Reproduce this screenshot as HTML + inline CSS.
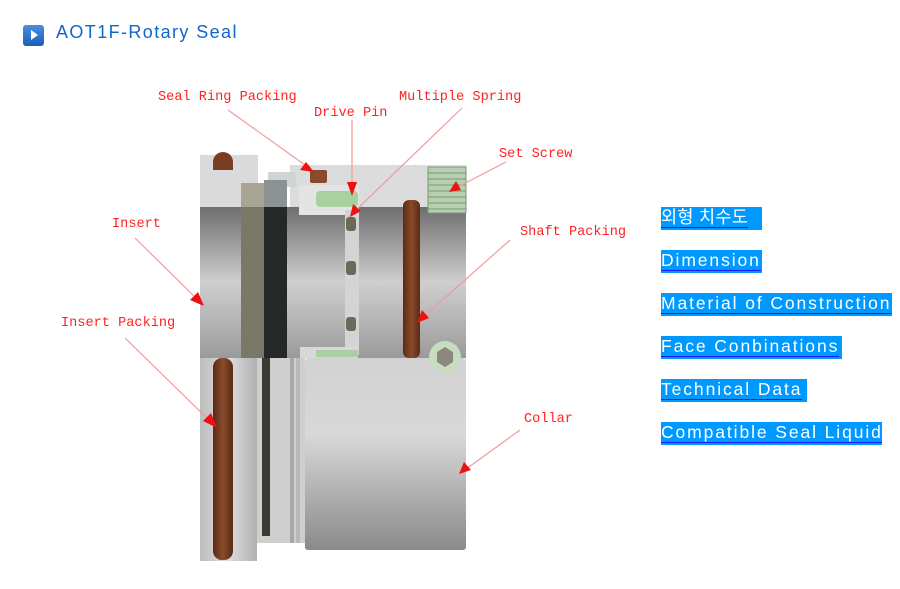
<!DOCTYPE html>
<html><head><meta charset="utf-8"><style>
body{margin:0;width:900px;height:589px;background:#fff;position:relative;overflow:hidden;font-family:"Liberation Sans","Noto Sans CJK KR",sans-serif}
.t{position:absolute;left:56px;top:22px;font-size:18px;color:#1166cc;letter-spacing:1.4px}
.ic{position:absolute;left:23px;top:25px;width:21px;height:21px;border-radius:3px;background:linear-gradient(#4a90e0,#1a5fb8)}
.ic:after{content:"";position:absolute;left:8px;top:5px;border-left:7px solid #fff;border-top:5px solid transparent;border-bottom:5px solid transparent}
.l{position:absolute;left:661px;height:23px;background:#0099ff;color:#fff;font-size:17.5px;line-height:20px;white-space:nowrap;overflow:hidden;letter-spacing:1.9px}
.l span{border-bottom:1.5px solid #1a1aff}
</style></head><body>
<div class="ic"></div><div class="t">AOT1F-Rotary Seal</div>
<svg width="900" height="589" style="position:absolute;left:0;top:0">
<defs>
<linearGradient id="g1" x1="0" y1="0" x2="0" y2="1"><stop offset="0" stop-color="#6e6e6e"/><stop offset="0.5" stop-color="#cfcfcf"/><stop offset="1" stop-color="#9a9a9a"/></linearGradient>
<linearGradient id="g2" x1="0" y1="0" x2="0" y2="1"><stop offset="0" stop-color="#d2d2d2"/><stop offset="0.4" stop-color="#d8d8d8"/><stop offset="1" stop-color="#8a8a8a"/></linearGradient>
<linearGradient id="gl" x1="0" y1="0" x2="1" y2="0"><stop offset="0" stop-color="#bdbdbd"/><stop offset="0.5" stop-color="#dedede"/><stop offset="1" stop-color="#b0b0b0"/></linearGradient>
<linearGradient id="br" x1="0" y1="0" x2="1" y2="0"><stop offset="0" stop-color="#5a2a15"/><stop offset="0.5" stop-color="#8a4a2c"/><stop offset="1" stop-color="#5a2a15"/></linearGradient>
</defs>
<rect x="200" y="155" width="58" height="55" fill="#dadada"/>
<rect x="290" y="165" width="176" height="48" fill="#dcdcdc"/>
<rect x="268" y="172" width="28" height="15" fill="#cfd4d6"/>
<rect x="200" y="207" width="266" height="151" fill="url(#g1)"/>
<rect x="299" y="185" width="60" height="30" fill="#e4e4e4"/>
<rect x="345" y="210" width="14" height="145" fill="#d4d4d4"/>
<rect x="300" y="347" width="58" height="11" fill="#d8d8d8"/>
<rect x="241" y="183" width="23" height="175" fill="#7a7866"/>
<rect x="241" y="183" width="23" height="24" fill="#a8a594"/>
<rect x="264" y="180" width="23" height="178" fill="#262828"/>
<rect x="264" y="180" width="23" height="27" fill="#8a9294"/>
<rect x="200" y="358" width="57" height="203" fill="url(#gl)"/>
<rect x="257" y="358" width="48" height="185" fill="#cfcfcf"/>
<rect x="262" y="358" width="8" height="178" fill="#3a3a32"/>
<rect x="290" y="358" width="4" height="185" fill="#a8a8a8"/>
<rect x="296" y="358" width="4" height="185" fill="#b8b8b8"/>
<rect x="305" y="358" width="161" height="192" rx="3" fill="url(#g2)"/>
<rect x="213" y="358" width="20" height="202" rx="9" fill="url(#br)"/>
<path d="M213 170 v-8 a10 10 0 0 1 20 0 v8 z" fill="#7a3c22"/>
<rect x="310" y="170" width="17" height="13" rx="2" fill="#8a4a2c"/>
<rect x="403" y="200" width="17" height="158" rx="6" fill="url(#br)"/>
<rect x="316" y="191" width="42" height="16" rx="4" fill="#a8d0a0"/>
<rect x="316" y="350" width="42" height="7" fill="#a8d0a0"/>
<g fill="#9dbf98" stroke="#7a9a78" stroke-width="1">
<rect x="428" y="167" width="38" height="46" fill="#b6cfae"/>
<path d="M428 173h38M428 179h38M428 185h38M428 191h38M428 197h38M428 203h38M428 209h38"/>
</g>
<g fill="#6a6a5a"><rect x="346" y="217" width="10" height="14" rx="3"/><rect x="346" y="261" width="10" height="14" rx="3"/><rect x="346" y="317" width="10" height="14" rx="3"/></g>
<circle cx="445" cy="357" r="16" fill="#c8dcc0"/>
<polygon points="445,347 453,352 453,362 445,367 437,362 437,352" fill="#8c8880"/>
<g stroke="#f29a9a" stroke-width="1.2">
<line x1="228" y1="110" x2="312" y2="170"/>
<line x1="352" y1="120" x2="352" y2="192"/>
<line x1="462" y1="108" x2="354" y2="212"/>
<line x1="506" y1="162" x2="452" y2="190"/>
<line x1="135" y1="238" x2="200" y2="302"/>
<line x1="510" y1="240" x2="420" y2="320"/>
<line x1="125" y1="338" x2="213" y2="424"/>
<line x1="520" y1="430" x2="462" y2="472"/>
</g>
<g fill="#ee1111">
<polygon points="314,172 300,170 306,162"/>
<polygon points="352,196 347,182 357,182"/>
<polygon points="350,217 353,204 361,211"/>
<polygon points="449,192 456,181 461,190"/>
<polygon points="204,306 190,300 198,292"/>
<polygon points="417,323 422,310 429,318"/>
<polygon points="217,428 203,421 211,413"/>
<polygon points="459,474 464,462 471,470"/>
</g>
<g fill="#ff2222" font-family="Liberation Mono,monospace" font-size="13.6">
<text x="158" y="100">Seal Ring Packing</text>
<text x="314" y="116">Drive Pin</text>
<text x="399" y="100">Multiple Spring</text>
<text x="499" y="157">Set Screw</text>
<text x="112" y="227">Insert</text>
<text x="520" y="235">Shaft Packing</text>
<text x="61" y="326">Insert Packing</text>
<text x="524" y="422">Collar</text>
</g>
</svg>
<div class="l" style="top:207px;width:101px;letter-spacing:0.3px"><span>외형 치수도</span></div>
<div class="l" style="top:250px;width:101px"><span>Dimension</span></div>
<div class="l" style="top:293px;width:231px"><span>Material of Construction</span></div>
<div class="l" style="top:336px;width:181px"><span>Face Conbinations</span></div>
<div class="l" style="top:379px;width:146px"><span>Technical Data</span></div>
<div class="l" style="top:422px;width:221px"><span>Compatible Seal Liquid</span></div>
</body></html>
